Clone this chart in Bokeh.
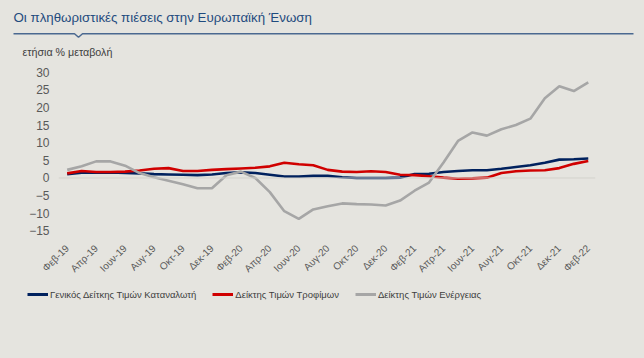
import math
from bokeh.plotting import figure
from bokeh.models import (Range1d, FixedTicker, Legend, LegendItem, Span,
                          GlobalInlineStyleSheet)
from bokeh.layouts import column
from bokeh.embed import file_html
from bokeh.resources import INLINE
from bokeh.core.properties import value

# ---------------- data ----------------
months = ["Φεβ-19", "Μαρ-19", "Απρ-19", "Μαϊ-19", "Ιουν-19", "Ιουλ-19", "Αυγ-19",
          "Σεπ-19", "Οκτ-19", "Νοε-19", "Δεκ-19", "Ιαν-20", "Φεβ-20", "Μαρ-20",
          "Απρ-20", "Μαϊ-20", "Ιουν-20", "Ιουλ-20", "Αυγ-20", "Σεπ-20", "Οκτ-20",
          "Νοε-20", "Δεκ-20", "Ιαν-21", "Φεβ-21", "Μαρ-21", "Απρ-21", "Μαϊ-21",
          "Ιουν-21", "Ιουλ-21", "Αυγ-21", "Σεπ-21", "Οκτ-21", "Νοε-21", "Δεκ-21",
          "Ιαν-22", "Φεβ-22"]

cpi = [1.1, 1.5, 1.5, 1.6, 1.4, 1.3, 1.1, 1.0, 0.9, 0.8, 1.0, 1.4, 1.6, 1.4,
       0.9, 0.4, 0.4, 0.6, 0.6, 0.2, 0.0, 0.0, 0.0, 0.1, 1.1, 1.2, 1.7, 2.0,
       2.2, 2.2, 2.6, 3.1, 3.6, 4.3, 5.2, 5.3, 5.5]

food = [1.3, 2.0, 1.7, 1.7, 1.8, 2.1, 2.6, 2.8, 2.0, 2.0, 2.3, 2.5, 2.7, 2.9,
        3.3, 4.3, 3.9, 3.6, 2.3, 1.8, 1.7, 1.9, 1.7, 0.9, 0.8, 0.5, 0.1, -0.2,
        -0.1, 0.1, 1.4, 1.9, 2.1, 2.2, 2.8, 4.0, 4.8]

energy = [2.3, 3.3, 4.7, 4.7, 3.5, 1.4, 0.2, -0.8, -1.8, -2.9, -2.9, 0.8, 1.8,
          0.0, -4.0, -9.4, -11.6, -8.9, -8.0, -7.2, -7.4, -7.5, -7.8, -6.4,
          -3.6, -1.3, 4.4, 10.5, 12.9, 12.0, 13.8, 15.0, 16.8, 22.6, 26.0,
          24.6, 27.1]

y_ticks = [-15, -10, -5, 0, 5, 10, 15, 20, 25, 30]

series_names = ["Γενικός Δείτκης Τιμών Καταναλωτή", "Δείκτης Τιμών Τροφίμων",
                "Δείκτης Τιμών Ενέργειας"]

title_text = "Οι πληθωριστικές πιέσεις στην Ευρωπαϊκή Ένωση"
subtitle_text = "ετήσια % μεταβολή"

# ---------------- styles ----------------
BG = "#E5E4DF"
FONT = "Liberation Sans"
colors = ["#00215E", "#D00000", "#A6A6A6"]

x = list(range(len(months)))
series = [cpi, food, energy]


def style_blank(fig):
    fig.frame_align = False
    fig.background_fill_color = BG
    fig.border_fill_color = BG
    fig.outline_line_color = None
    fig.xgrid.visible = False
    fig.ygrid.visible = False


# ---------------- header ----------------
h = figure(width=644, height=58, x_range=Range1d(0, 644), y_range=Range1d(58, 0),
           output_backend="svg", toolbar_location=None, min_border=0,
           x_axis_location=None, y_axis_location=None)
style_blank(h)
h.text(x=[13], y=[16.5], text=[title_text], text_font=value(FONT),
       text_font_size="13.3px", text_baseline="middle", text_color="#1F4B7E")
h.line(x=[13, 74, 78, 82, 633], y=[33.3, 33.3, 36.8, 33.3, 33.3],
       line_color="#4A6890", line_width=1.5)
h.text(x=[22], y=[51], text=[subtitle_text], text_font=value(FONT),
       text_font_size="10.7px", text_baseline="middle", text_color="#404040")

# ---------------- main chart ----------------
p = figure(width=644, height=227, x_range=Range1d(-0.6, 36.5),
           y_range=Range1d(-16, 31), output_backend="svg", toolbar_location=None,
           min_border_left=58, min_border_right=49, min_border_top=10,
           min_border_bottom=51)
style_blank(p)

p.add_layout(Span(location=0, dimension="width", line_color="#D3D2CD",
                  line_width=1))

for vals, c in zip(series, colors):
    p.line(x=x, y=vals, line_color=c, line_width=2.6)

p.yaxis.ticker = FixedTicker(ticks=y_ticks)
p.yaxis.axis_line_color = None
p.yaxis.major_tick_line_color = None
p.yaxis.minor_tick_line_color = None
p.yaxis.major_tick_out = 0
p.yaxis.major_tick_in = 0
p.yaxis.major_label_standoff = 9
p.yaxis.major_label_text_font = FONT
p.yaxis.major_label_text_font_size = "12px"
p.yaxis.major_label_text_color = "#595959"

p.xaxis.ticker = FixedTicker(ticks=list(range(0, len(months), 2)))
p.xaxis.major_label_overrides = {i: months[i] for i in range(0, len(months), 2)}
p.xaxis.axis_line_color = None
p.xaxis.major_tick_line_color = None
p.xaxis.minor_tick_line_color = None
p.xaxis.major_label_orientation = math.pi / 4
p.xaxis.major_label_standoff = 6
p.xaxis.major_label_text_font = FONT
p.xaxis.major_label_text_font_size = "10px"
p.xaxis.major_label_text_color = "#595959"

# ---------------- footer with legend ----------------
# the same series are drawn here out of view, only to supply the legend glyphs
f = figure(width=644, height=73, x_range=Range1d(1000, 1001),
           y_range=Range1d(1000, 1001), output_backend="svg",
           toolbar_location=None, min_border=0,
           x_axis_location=None, y_axis_location=None)
style_blank(f)
legend_renderers = [f.line(x=x, y=vals, line_color=c, line_width=3)
                    for vals, c in zip(series, colors)]

legend = Legend(items=[LegendItem(label=n, renderers=[r])
                       for n, r in zip(series_names, legend_renderers)],
                orientation="horizontal", location=(27, 57))
legend.padding = 0
legend.margin = 0
legend.spacing = 16
legend.glyph_width = 21
legend.glyph_height = 14
legend.label_height = 14
legend.label_standoff = 2
legend.label_text_font = FONT
legend.label_text_font_size = "9.5px"
legend.label_text_color = "#404040"
legend.background_fill_alpha = 0
legend.border_line_alpha = 0
f.add_layout(legend)

layout = column(h, p, f, spacing=0)
layout.stylesheets = [GlobalInlineStyleSheet(css="body { background: %s; }" % BG)]

open("out.html", "w").write(file_html(layout, INLINE))
